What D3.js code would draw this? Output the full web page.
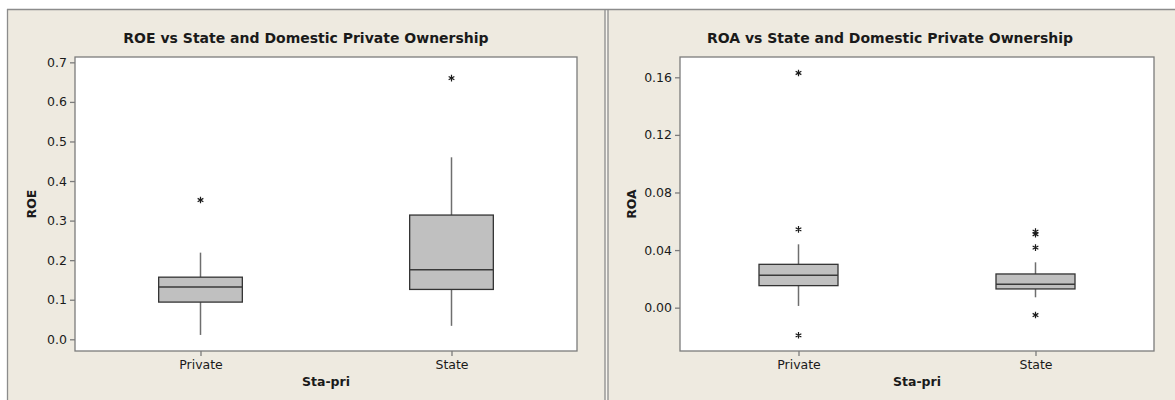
<!DOCTYPE html>
<html>
<head>
<meta charset="utf-8">
<script src="https://cdn.jsdelivr.net/npm/d3@7"></script>
<style>
  html, body { margin: 0; padding: 0; background: #ffffff; }
  svg { display: block; }
  text { font-family: "DejaVu Sans", Verdana, sans-serif; fill: #1a1a1a; }
</style>
</head>
<body>
<svg id="chart" width="1175" height="400"></svg>
<script>
// Groups on the horizontal axis
const categories = ["Private", "State"];

// ROE box-plot summaries per group
const roeLow     = [0.011, 0.034];
const roeQ1      = [0.094, 0.126];
const roeMedian  = [0.132, 0.176];
const roeQ3      = [0.157, 0.314];
const roeHigh    = [0.219, 0.460];
const roeOutliers = [[0.352], [0.660]];
const roeTicks   = [0.0, 0.1, 0.2, 0.3, 0.4, 0.5, 0.6, 0.7];

// ROA box-plot summaries per group
const roaLow     = [0.0012, 0.0072];
const roaQ1      = [0.0153, 0.0130];
const roaMedian  = [0.0225, 0.0163];
const roaQ3      = [0.0301, 0.0234];
const roaHigh    = [0.0440, 0.0315];
const roaOutliers = [[0.163, 0.0544, -0.0192], [0.0528, 0.0510, 0.0417, -0.0051]];
const roaTicks   = [0.00, 0.04, 0.08, 0.12, 0.16];

const svg = d3.select("#chart");
const BG = "#eeeae0";
const FRAME = "#7c7c7c";

// Panel backgrounds and window borders
svg.append("rect").attr("x", 7).attr("y", 9).attr("width", 598).attr("height", 391).attr("fill", BG);
svg.append("rect").attr("x", 608).attr("y", 9).attr("width", 567).attr("height", 391).attr("fill", BG);
svg.append("rect").attr("x", 605).attr("y", 9).attr("width", 3).attr("height", 391).attr("fill", "#f6f4ee");
const border = svg.append("g").attr("stroke", "#8c8c8c").attr("stroke-width", 1.3).attr("fill", "none");
border.append("line").attr("x1", 7).attr("x2", 1175).attr("y1", 9.5).attr("y2", 9.5);
border.append("line").attr("x1", 7.5).attr("x2", 7.5).attr("y1", 9).attr("y2", 400);
border.append("line").attr("x1", 605).attr("x2", 605).attr("y1", 9).attr("y2", 400);
border.append("line").attr("x1", 608).attr("x2", 608).attr("y1", 9).attr("y2", 400);

function drawPanel(opt) {
  const { left, right, top, bottom, domain, ticks, fmt, low, q1, med, q3, high, outliers,
          title, yLabel, titleX, yLabelX } = opt;

  const x = d3.scalePoint().domain(categories).range([left, right]).padding(0.5);
  const y = d3.scaleLinear().domain(domain).range([bottom, top]);
  const boxW = (right - left) / 6;
  const g = svg.append("g");

  g.append("rect")
    .attr("x", left).attr("y", top)
    .attr("width", right - left).attr("height", bottom - top)
    .attr("fill", "#ffffff");

  // Whiskers
  g.selectAll(".whisker-up").data(categories).join("line")
    .attr("x1", d => x(d)).attr("x2", d => x(d))
    .attr("y1", (d, i) => y(q3[i])).attr("y2", (d, i) => y(high[i]))
    .attr("stroke", "#6e6e6e").attr("stroke-width", 1.5);
  g.selectAll(".whisker-down").data(categories).join("line")
    .attr("x1", d => x(d)).attr("x2", d => x(d))
    .attr("y1", (d, i) => y(q1[i])).attr("y2", (d, i) => y(low[i]))
    .attr("stroke", "#6e6e6e").attr("stroke-width", 1.5);

  // Boxes
  g.selectAll(".box").data(categories).join("rect")
    .attr("x", d => x(d) - boxW / 2)
    .attr("y", (d, i) => y(q3[i]))
    .attr("width", boxW)
    .attr("height", (d, i) => y(q1[i]) - y(q3[i]))
    .attr("fill", "#c0c0c0").attr("stroke", "#333333").attr("stroke-width", 1.3);

  // Medians
  g.selectAll(".median").data(categories).join("line")
    .attr("x1", d => x(d) - boxW / 2).attr("x2", d => x(d) + boxW / 2)
    .attr("y1", (d, i) => y(med[i])).attr("y2", (d, i) => y(med[i]))
    .attr("stroke", "#3a3a3a").attr("stroke-width", 1.5);

  // Outliers
  const pts = [];
  categories.forEach((c, i) => outliers[i].forEach(v => pts.push({ c, v })));
  const star = d3.symbol().type(d3.symbolAsterisk).size(30);
  g.selectAll(".outlier").data(pts).join("path")
    .attr("d", star)
    .attr("transform", d => `translate(${x(d.c)},${y(d.v)})`)
    .attr("fill", "none").attr("stroke", "#1a1a1a").attr("stroke-width", 1.2);

  // Axes
  const yAxis = g.append("g")
    .attr("transform", `translate(${left},0)`)
    .call(d3.axisLeft(y).tickValues(ticks).tickFormat(fmt).tickSize(5).tickPadding(3));
  const xAxis = g.append("g")
    .attr("transform", `translate(0,${bottom})`)
    .call(d3.axisBottom(x).tickSize(5).tickPadding(4));
  [yAxis, xAxis].forEach(a => {
    a.select(".domain").remove();
    a.selectAll(".tick line").attr("stroke", FRAME).attr("stroke-width", 1.3);
    a.selectAll(".tick text").attr("font-size", 12.5).attr("fill", "#1a1a1a")
      .attr("font-family", "DejaVu Sans, sans-serif");
  });

  // Frame
  g.append("rect")
    .attr("x", left).attr("y", top)
    .attr("width", right - left).attr("height", bottom - top)
    .attr("fill", "none").attr("stroke", FRAME).attr("stroke-width", 1.3);

  // Titles
  g.append("text")
    .attr("x", titleX).attr("y", 42.5)
    .attr("text-anchor", "middle")
    .attr("font-size", 14).attr("font-weight", "bold")
    .text(title);
  g.append("text")
    .attr("x", (left + right) / 2).attr("y", 386)
    .attr("text-anchor", "middle")
    .attr("font-size", 12.5).attr("font-weight", "bold")
    .text("Sta-pri");
  g.append("text")
    .attr("transform", `translate(${yLabelX},${(top + bottom) / 2}) rotate(-90)`)
    .attr("text-anchor", "middle")
    .attr("font-size", 12.5).attr("font-weight", "bold")
    .text(yLabel);
}

drawPanel({
  left: 75, right: 577, top: 57, bottom: 351,
  domain: [-0.0296, 0.7135], ticks: roeTicks, fmt: d3.format(".1f"),
  low: roeLow, q1: roeQ1, med: roeMedian, q3: roeQ3, high: roeHigh, outliers: roeOutliers,
  title: "ROE vs State and Domestic Private Ownership", yLabel: "ROE",
  titleX: 306, yLabelX: 36
});

drawPanel({
  left: 680, right: 1154, top: 57, bottom: 351,
  domain: [-0.0301, 0.1741], ticks: roaTicks, fmt: d3.format(".2f"),
  low: roaLow, q1: roaQ1, med: roaMedian, q3: roaQ3, high: roaHigh, outliers: roaOutliers,
  title: "ROA vs State and Domestic Private Ownership", yLabel: "ROA",
  titleX: 890, yLabelX: 636
});
</script>
</body>
</html>
